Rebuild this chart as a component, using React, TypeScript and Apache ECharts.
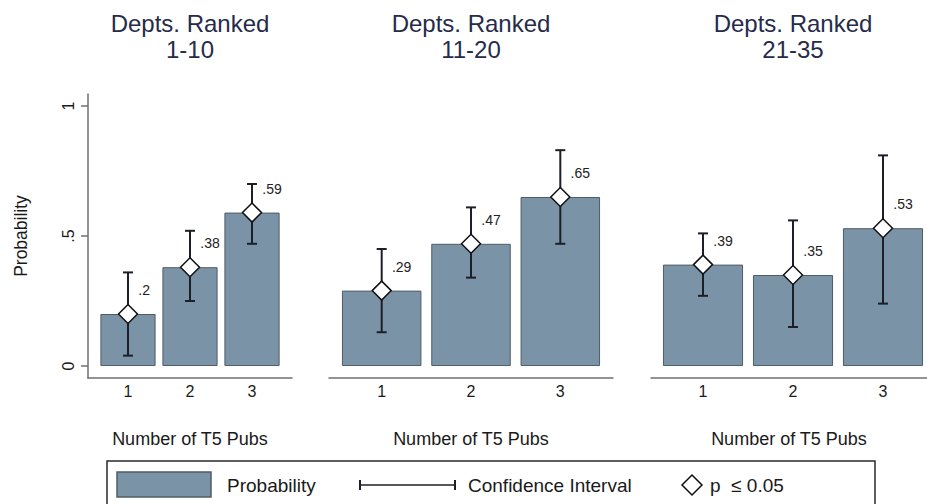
import React, { useEffect, useRef } from "react";
import * as echarts from "echarts";

const CATEGORIES = [1, 2, 3];
const PANEL_TITLES = ["Depts. Ranked\n1-10", "Depts. Ranked\n11-20", "Depts. Ranked\n21-35"];

const PROB_1_10 = [0.2, 0.38, 0.59];
const CI_LOW_1_10 = [0.04, 0.25, 0.47];
const CI_HIGH_1_10 = [0.36, 0.52, 0.7];

const PROB_11_20 = [0.29, 0.47, 0.65];
const CI_LOW_11_20 = [0.13, 0.34, 0.47];
const CI_HIGH_11_20 = [0.45, 0.61, 0.83];

const PROB_21_35 = [0.39, 0.35, 0.53];
const CI_LOW_21_35 = [0.27, 0.15, 0.24];
const CI_HIGH_21_35 = [0.51, 0.56, 0.81];

const Y_TICKS = [0, 0.5, 1];
const Y_TICK_LABELS = ["0", ".5", "1"];

const X_NAME = "Number of T5 Pubs";
const Y_NAME = "Probability";
const LEGEND_LABELS = ["Probability", "Confidence Interval", "p  \u2264 0.05"];

const PANELS = [
  { title: PANEL_TITLES[0], prob: PROB_1_10, lo: CI_LOW_1_10, hi: CI_HIGH_1_10 },
  { title: PANEL_TITLES[1], prob: PROB_11_20, lo: CI_LOW_11_20, hi: CI_HIGH_11_20 },
  { title: PANEL_TITLES[2], prob: PROB_21_35, lo: CI_LOW_21_35, hi: CI_HIGH_21_35 },
];

const FONT = "'Liberation Sans', Arial, Helvetica, sans-serif";
const BAR_FILL = "#7b93a6";
const BAR_EDGE = "#4f5c66";
const DARK = "#1c1f27";
const AXIS_GRAY = "#6f6f6f";
const TITLE_COLOR = "#262b4a";

// layout (px)
const GRIDS = [
  { left: 88, width: 204, min: 0.355, max: 3.645, titleX: 190 },
  { left: 329, width: 284, min: 0.41, max: 3.59, titleX: 471 },
  { left: 651, width: 276, min: 0.422, max: 3.489, titleX: 793 },
];
const GRID_TOP = 94;
const GRID_HEIGHT = 284;
const Y_MIN = -0.046;
const Y_MAX = 1.046;

function fmtProb(v: number): string {
  const s = String(v);
  return s.startsWith("0") ? s.slice(1) : s;
}

export default function App() {
  const ref = useRef<HTMLDivElement>(null);

  useEffect(() => {
    if (!ref.current) return;
    const chart = echarts.init(ref.current, null, { renderer: "svg" });

    const grid = GRIDS.map((g) => ({
      left: g.left,
      top: GRID_TOP,
      width: g.width,
      height: GRID_HEIGHT,
      containLabel: false,
    }));

    const xAxis = GRIDS.map((g, i) => ({
      type: "value",
      gridIndex: i,
      min: g.min,
      max: g.max,
      name: X_NAME,
      nameLocation: "middle",
      nameGap: 52,
      nameTextStyle: { fontSize: 18, color: "#1a1a1a", fontFamily: FONT },
      axisLine: { show: true, onZero: false, lineStyle: { color: AXIS_GRAY, width: 1.5 } },
      axisTick: { show: false, customValues: CATEGORIES },
      axisLabel: {
        customValues: CATEGORIES,
        fontSize: 16,
        color: "#1a1a1a",
        margin: 5,
        fontFamily: FONT,
      },
      splitLine: { show: false },
    }));

    const yAxis = GRIDS.map((_, i) => ({
      type: "value",
      gridIndex: i,
      min: Y_MIN,
      max: Y_MAX,
      show: i === 0,
      name: i === 0 ? Y_NAME : "",
      nameLocation: "middle",
      nameGap: 58,
      nameTextStyle: { fontSize: 17.5, color: "#1a1a1a", fontFamily: FONT },
      axisLine: { show: true, lineStyle: { color: AXIS_GRAY, width: 1.5 } },
      axisTick: { show: true, length: 7, customValues: Y_TICKS, lineStyle: { color: AXIS_GRAY, width: 1.5 } },
      axisLabel: {
        customValues: Y_TICKS,
        rotate: 90,
        fontSize: 16,
        color: "#1a1a1a",
        margin: 12,
        fontFamily: FONT,
        formatter: (v: number) => {
          const idx = Y_TICKS.findIndex((t) => Math.abs(t - v) < 1e-9);
          return idx >= 0 ? Y_TICK_LABELS[idx] : "";
        },
      },
      splitLine: { show: false },
    }));

    const series: any[] = [];
    PANELS.forEach((p, i) => {
      series.push({
        type: "bar",
        xAxisIndex: i,
        yAxisIndex: i,
        barWidth: "89%",
        data: CATEGORIES.map((c, k) => [c, p.prob[k]]),
        itemStyle: { color: BAR_FILL, borderColor: BAR_EDGE, borderWidth: 1 },
        z: 2,
      });
      series.push({
        type: "custom",
        xAxisIndex: i,
        yAxisIndex: i,
        encode: { x: 0, y: [1, 2] },
        data: CATEGORIES.map((c, k) => [c, p.lo[k], p.hi[k]]),
        renderItem: (_params: any, api: any) => {
          const x = api.value(0);
          const lo = api.coord([x, api.value(1)]);
          const hi = api.coord([x, api.value(2)]);
          const cap = 5;
          const style = { stroke: DARK, lineWidth: 2 };
          return {
            type: "group",
            children: [
              { type: "line", shape: { x1: lo[0], y1: lo[1], x2: hi[0], y2: hi[1] }, style },
              { type: "line", shape: { x1: hi[0] - cap, y1: hi[1], x2: hi[0] + cap, y2: hi[1] }, style },
              { type: "line", shape: { x1: lo[0] - cap, y1: lo[1], x2: lo[0] + cap, y2: lo[1] }, style },
            ],
          };
        },
        z: 3,
      });
      series.push({
        type: "scatter",
        xAxisIndex: i,
        yAxisIndex: i,
        symbol: "diamond",
        symbolSize: 19,
        data: CATEGORIES.map((c, k) => [c, p.prob[k]]),
        itemStyle: { color: "#ffffff", borderColor: "#111111", borderWidth: 1.5, opacity: 1 },
        label: {
          show: true,
          position: "right",
          distance: 0,
          offset: [0, -24],
          align: "left",
          verticalAlign: "middle",
          fontSize: 14,
          color: "#222",
          fontFamily: FONT,
          formatter: (prm: any) => fmtProb(prm.value[1]),
        },
        z: 4,
      });
    });

    const titleGraphics = PANELS.map((p, i) => ({
      type: "text",
      x: GRIDS[i].titleX,
      y: 10,
      style: {
        text: p.title,
        fontSize: 24,
        lineHeight: 26,
        fill: TITLE_COLOR,
        fontFamily: FONT,
        align: "center",
        verticalAlign: "top",
      },
    }));

    const LY = 485;
    const legendGraphics: any[] = [
      {
        type: "rect",
        shape: { x: 107, y: 461, width: 768, height: 70 },
        style: { fill: "none", stroke: "#2a2a2a", lineWidth: 1.5 },
      },
      {
        type: "rect",
        shape: { x: 117, y: 472, width: 94, height: 25 },
        style: { fill: BAR_FILL, stroke: BAR_EDGE, lineWidth: 1.5 },
      },
      {
        type: "text",
        x: 227,
        y: LY,
        style: { text: LEGEND_LABELS[0], fontSize: 19, fill: "#1a1a1a", fontFamily: FONT, verticalAlign: "middle" },
      },
      { type: "line", shape: { x1: 360, y1: LY, x2: 455, y2: LY }, style: { stroke: DARK, lineWidth: 1.5 } },
      { type: "line", shape: { x1: 360, y1: LY - 5, x2: 360, y2: LY + 5 }, style: { stroke: DARK, lineWidth: 2 } },
      { type: "line", shape: { x1: 455, y1: LY - 5, x2: 455, y2: LY + 5 }, style: { stroke: DARK, lineWidth: 2 } },
      {
        type: "text",
        x: 468,
        y: LY,
        style: { text: LEGEND_LABELS[1], fontSize: 19, fill: "#1a1a1a", fontFamily: FONT, verticalAlign: "middle" },
      },
      {
        type: "polygon",
        shape: { points: [[692, LY - 10], [702, LY], [692, LY + 10], [682, LY]] },
        style: { fill: "#fff", stroke: "#111", lineWidth: 1.5 },
      },
      {
        type: "text",
        x: 710,
        y: LY,
        style: { text: LEGEND_LABELS[2], fontSize: 19, fill: "#1a1a1a", fontFamily: FONT, verticalAlign: "middle" },
      },
    ];

    chart.setOption({
      animation: false,
      backgroundColor: "#ffffff",
      textStyle: { fontFamily: FONT },
      grid,
      xAxis,
      yAxis,
      series,
      graphic: { elements: [...titleGraphics, ...legendGraphics] },
    });

    return () => chart.dispose();
  }, []);

  return (
    <div
      ref={ref}
      style={{ position: "fixed", left: 0, top: 0, width: 927, height: 504, background: "#fff" }}
    />
  );
}
